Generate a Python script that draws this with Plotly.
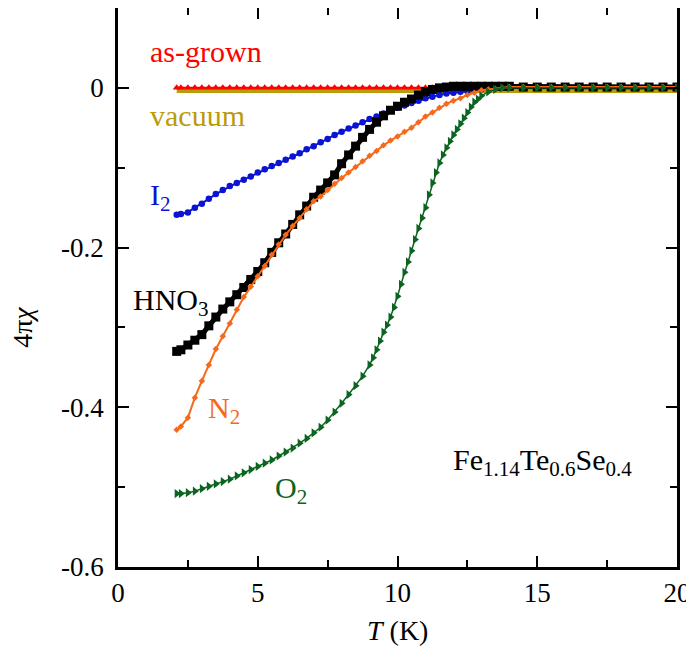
import plotly.graph_objects as go

# ---------------- data ----------------
T_grid = [2.1, 2.25, 2.5, 2.75, 3.0, 3.25, 3.5, 3.75, 4.0, 4.25, 4.5, 4.75,
          5.0, 5.25, 5.5, 5.75, 6.0, 6.25, 6.5, 6.75, 7.0, 7.25, 7.5, 7.75,
          8.0, 8.25, 8.5, 8.75, 9.0, 9.25, 9.5, 9.75, 10.0, 10.25, 10.5, 10.75,
          11.0, 11.25, 11.5, 11.75, 12.0, 12.25, 12.5, 12.75, 13.0, 13.25, 13.5, 13.75,
          14.0, 14.5, 15.0, 15.5, 16.0, 16.5, 17.0, 17.5, 18.0, 18.5, 19.0, 19.5, 20.0]

as_grown = [0.0, 0.0, 0.0, 0.0, 0.0, 0.0, 0.0, 0.0, 0.0, 0.0, 0.0, 0.0,
            0.0, 0.0, 0.0, 0.0, 0.0, 0.0, 0.0, 0.0, 0.0, 0.0, 0.0, 0.0,
            0.0, 0.0, 0.0, 0.0, 0.0, 0.0, 0.0, 0.0, 0.0, 0.0, 0.0, 0.0,
            0.0, 0.0, 0.0, 0.0, 0.0, 0.0, 0.0, 0.0, 0.0, 0.0, 0.0, 0.0,
            0.0, 0.0, 0.0, 0.0, 0.0, 0.0, 0.0, 0.0, 0.0, 0.0, 0.0, 0.0, 0.0]

vacuum = [-0.004, -0.004, -0.004, -0.004, -0.004, -0.004, -0.004, -0.004, -0.004, -0.004, -0.004, -0.004,
          -0.004, -0.004, -0.004, -0.004, -0.004, -0.004, -0.004, -0.004, -0.004, -0.004, -0.004, -0.004,
          -0.004, -0.004, -0.004, -0.004, -0.004, -0.004, -0.004, -0.004, -0.004, -0.004, -0.004, -0.004,
          -0.004, -0.004, -0.004, -0.004, -0.004, -0.004, -0.004, -0.004, -0.004, -0.004, -0.004, -0.004,
          -0.004, -0.004, -0.004, -0.004, -0.004, -0.004, -0.004, -0.004, -0.004, -0.004, -0.004, -0.004, -0.004]

iodine = [-0.159, -0.158, -0.156, -0.150, -0.145, -0.139, -0.133, -0.128, -0.123, -0.119, -0.115, -0.111,
          -0.106, -0.102, -0.098, -0.094, -0.090, -0.086, -0.082, -0.077, -0.073, -0.068, -0.064, -0.059,
          -0.055, -0.051, -0.047, -0.043, -0.039, -0.036, -0.032, -0.028, -0.025, -0.022, -0.019, -0.016,
          -0.013, -0.011, -0.009, -0.007, -0.006, -0.005, -0.004, -0.003, -0.002, -0.001, 0.0, 0.0,
          0.0, 0.0, 0.0, 0.0, 0.0, 0.0, 0.0, 0.0, 0.0, 0.0, 0.0, 0.0, 0.0]

hno3 = [-0.330, -0.328, -0.322, -0.316, -0.309, -0.298, -0.287, -0.277, -0.268, -0.259, -0.250, -0.240,
        -0.230, -0.219, -0.206, -0.194, -0.183, -0.171, -0.159, -0.148, -0.137, -0.128, -0.119, -0.109,
        -0.095, -0.084, -0.073, -0.062, -0.052, -0.043, -0.035, -0.028, -0.023, -0.018, -0.014, -0.009,
        -0.005, -0.002, 0.000, 0.001, 0.002, 0.002, 0.002, 0.002, 0.002, 0.002, 0.002, 0.002,
        0.002, 0.001, 0.001, 0.001, 0.001, 0.001, 0.001, 0.001, 0.001, 0.001, 0.001, 0.001, 0.001]

nitrogen = [-0.428, -0.424, -0.413, -0.388, -0.367, -0.347, -0.327, -0.311, -0.295, -0.278, -0.262, -0.249,
            -0.236, -0.223, -0.209, -0.196, -0.184, -0.173, -0.163, -0.152, -0.142, -0.136, -0.128, -0.120,
            -0.113, -0.106, -0.099, -0.092, -0.085, -0.079, -0.072, -0.066, -0.061, -0.055, -0.050, -0.043,
            -0.036, -0.031, -0.025, -0.020, -0.016, -0.013, -0.009, -0.006, -0.003, -0.002, -0.001, 0.000,
            0.001, 0.001, 0.001, 0.001, 0.001, 0.001, 0.001, 0.001, 0.001, 0.001, 0.001, 0.001, 0.001]

T_oxygen = [2.1, 2.25, 2.5, 2.75, 3.0, 3.25, 3.5, 3.75, 4.0, 4.25, 4.5, 4.75,
            5.0, 5.25, 5.5, 5.75, 6.0, 6.25, 6.5, 6.75, 7.0, 7.25, 7.5, 7.75,
            8.0, 8.25, 8.5, 8.75,
            9.0, 9.125, 9.25, 9.375, 9.5, 9.625, 9.75, 9.875,
            10.0, 10.125, 10.25, 10.375, 10.5, 10.625, 10.75, 10.875,
            11.0, 11.125, 11.25, 11.375, 11.5, 11.625, 11.75, 11.875,
            12.0, 12.125, 12.25, 12.375, 12.5, 12.625, 12.75, 12.875, 13.0,
            13.25, 13.5, 13.75, 14.0,
            14.5, 15.0, 15.5, 16.0, 16.5, 17.0, 17.5, 18.0, 18.5, 19.0, 19.5, 20.0]

oxygen = [-0.508, -0.508, -0.507, -0.505, -0.502, -0.499, -0.496, -0.493, -0.490, -0.486, -0.482, -0.478,
          -0.474, -0.470, -0.466, -0.461, -0.456, -0.451, -0.445, -0.439, -0.432, -0.425, -0.416, -0.406,
          -0.395, -0.384, -0.373, -0.361,
          -0.347, -0.338, -0.328, -0.317, -0.306, -0.297, -0.287, -0.275,
          -0.261, -0.246, -0.231, -0.218, -0.204, -0.190, -0.176, -0.163,
          -0.150, -0.134, -0.119, -0.106, -0.094, -0.084, -0.075, -0.067,
          -0.059, -0.052, -0.045, -0.038, -0.031, -0.024, -0.018, -0.014, -0.010,
          -0.005, -0.002, 0.000, 0.000,
          0.0, 0.0, 0.0, 0.0, 0.0, 0.0, 0.0, 0.0, 0.0, 0.0, 0.0, 0.0]

x_tickvals = [0, 5, 10, 15, 20]
x_ticktext = ["0", "5", "10", "15", "20"]
y_tickvals = [0, -0.2, -0.4, -0.6]
y_ticktext = ["0", "-0.2", "-0.4", "-0.6"]

# ---------------- styles ----------------
RED = "#FF0000"
GOLD = "#BB9B0A"
BLUE = "#0A14D2"
BLACK = "#000000"
ORANGE = "#F7691A"
GREEN = "#0B6420"
FONT = "Liberation Serif, Times New Roman, serif"

fig = go.Figure()

fig.add_trace(go.Scatter(x=T_grid, y=vacuum, mode="lines",
                         line=dict(color=GOLD, width=4), showlegend=False))
fig.add_trace(go.Scatter(x=T_grid, y=as_grown, mode="lines+markers",
                         line=dict(color=RED, width=2),
                         marker=dict(symbol="triangle-up", size=7, color=RED),
                         showlegend=False))
fig.add_trace(go.Scatter(x=T_grid, y=iodine, mode="lines+markers",
                         line=dict(color=BLUE, width=2),
                         marker=dict(symbol="circle", size=6.5, color=BLUE),
                         showlegend=False))
fig.add_trace(go.Scatter(x=T_grid, y=hno3, mode="lines+markers",
                         line=dict(color=BLACK, width=5),
                         marker=dict(symbol="square", size=9, color=BLACK),
                         showlegend=False))
fig.add_trace(go.Scatter(x=T_grid, y=nitrogen, mode="lines+markers",
                         line=dict(color=ORANGE, width=2),
                         marker=dict(symbol="diamond", size=5, color=ORANGE),
                         showlegend=False))
fig.add_trace(go.Scatter(x=T_oxygen, y=oxygen, mode="lines+markers",
                         line=dict(color=GREEN, width=1.5),
                         marker=dict(symbol="triangle-right", size=8, color=GREEN),
                         showlegend=False))

labels = [
    ("as-grown", 1.07, 0.045, RED),
    ("vacuum", 1.07, -0.034, GOLD),
    ("I<sub>2</sub>", 1.07, -0.137, BLUE),
    ("HNO<sub>3</sub>", 0.45, -0.268, BLACK),
    ("N<sub>2</sub>", 3.15, -0.403, ORANGE),
    ("O<sub>2</sub>", 5.55, -0.503, GREEN),
    ("Fe<sub>1.14</sub>Te<sub>0.6</sub>Se<sub>0.4</sub>", 11.9, -0.468, BLACK),
]
for text, x, y, c in labels:
    fig.add_annotation(x=x, y=y, text=text, showarrow=False, xanchor="left",
                       yanchor="middle", font=dict(family=FONT, size=30, color=c))

# axis titles as annotations for precise placement
fig.add_annotation(x=-0.171, xref="paper", y=-0.3, yref="y", text="4π<i>χ</i>",
                   textangle=-90, showarrow=False, xanchor="center", yanchor="middle",
                   font=dict(family=FONT, size=28, color="black"))
fig.add_annotation(x=10.0, y=-0.113, xref="x", yref="paper", text="<i>T</i> (K)",
                   showarrow=False, xanchor="center", yanchor="middle",
                   font=dict(family=FONT, size=28, color="black"))

axis_common = dict(showline=True, linecolor="black", linewidth=2.5, mirror="allticks",
                   ticks="inside", ticklen=11, tickwidth=2, tickcolor="black",
                   showgrid=False, zeroline=False, automargin=False,
                   tickfont=dict(family=FONT, size=27, color="black"))

fig.update_xaxes(range=[0, 20], tickvals=x_tickvals, ticktext=x_ticktext,
                 minor=dict(dtick=2.5, ticks="inside", ticklen=7, tickwidth=2, tickcolor="black"),
                 **axis_common)
fig.update_yaxes(range=[-0.6, 0.1], tickvals=y_tickvals, ticktext=y_ticktext,
                 ticklabelstandoff=6,
                 minor=dict(tickvals=[-0.1, -0.3, -0.5], ticks="inside", ticklen=7,
                            tickwidth=2, tickcolor="black"),
                 **axis_common)

# the page body adds an 8px offset, so the figure is sized to fit the window
fig.update_layout(width=686, height=640,
                  margin=dict(l=110, r=17, t=0, b=81),
                  plot_bgcolor="white", paper_bgcolor="white",
                  showlegend=False)

fig.write_html("out.html")
